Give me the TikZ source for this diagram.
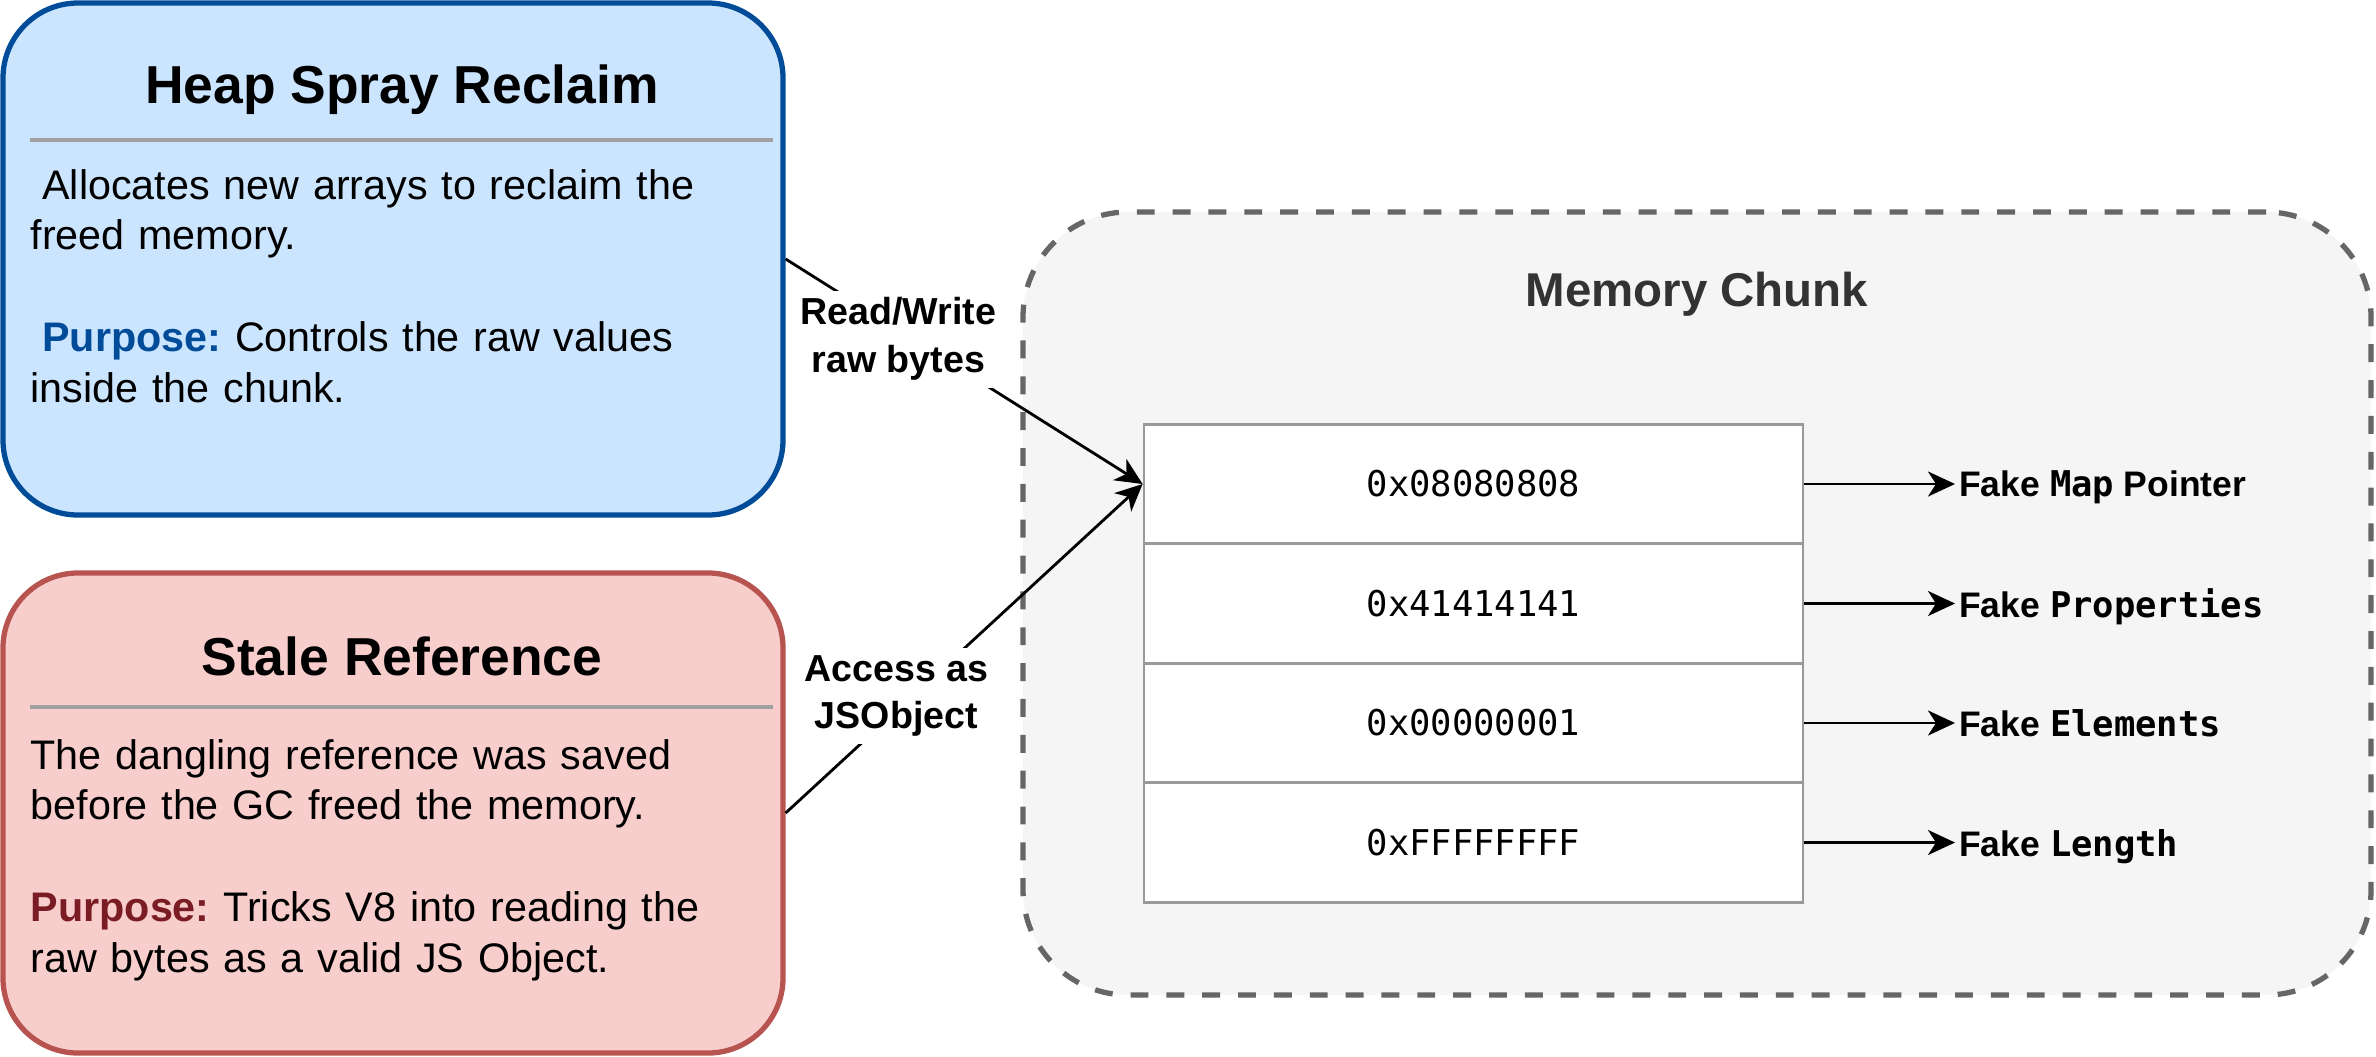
\documentclass[tikz,border=0pt]{standalone}
\usepackage{fontspec}
\setmainfont{Liberation Sans}
\setmonofont{DejaVu Sans Mono}
\usetikzlibrary{arrows.meta, positioning, calc}
\definecolor{cHeapFill}{RGB}{204,229,255}
\definecolor{cHeapLine}{RGB}{0,76,153}
\definecolor{cStaleFill}{RGB}{248,206,204}
\definecolor{cStaleLine}{RGB}{184,84,80}
\definecolor{cStaleText}{RGB}{122,28,36}
\definecolor{cChunkFill}{RGB}{245,245,245}
\definecolor{cChunkLine}{RGB}{102,102,102}
\definecolor{cChunkText}{RGB}{51,51,51}
\definecolor{cRule}{RGB}{160,160,160}
\definecolor{cCell}{RGB}{153,153,153}
\tikzset{
	infobox/.style={rectangle, rounded corners=0.75cm, minimum width=7.8cm, line width=1.5pt, inner sep=0pt},
	boxtitle/.style={anchor=base, inner sep=0pt, font=\bfseries\fontsize{15.2}{18}\selectfont},
	boxbody/.style={anchor=base west, inner sep=0pt, text width=7.5cm, align=left, font=\fontsize{11.75}{14.45}\selectfont\frenchspacing},
	boxrule/.style={draw=cRule, line width=1pt},
	chunkbox/.style={rectangle, rounded corners=1.05cm, draw=cChunkLine, fill=cChunkFill, line width=1.5pt, dash pattern=on 5.1pt off 5.1pt, minimum width=13.48cm, minimum height=7.83cm},
	memcell/.style={draw=cCell, fill=white, line width=0.8pt, minimum width=6.59cm, minimum height=1.195cm, font=\ttfamily\fontsize{10.1}{12}\selectfont},
	fieldlabel/.style={anchor=west, inner sep=1pt, text depth=0pt, font=\bfseries\fontsize{10.1}{12}\selectfont},
	edgelabel/.style={fill=white, align=center, inner sep=2pt, font=\bfseries\fontsize{10.7}{13.6}\selectfont},
	flowarrow/.style={-{Stealth[length=2.7mm, width=2.5mm, inset=0.8mm]}, line width=0.8pt},
}

\begin{document}
\begin{tikzpicture}
	\useasboundingbox (0,0) rectangle (23.76,-10.56);
	% left-hand boxes
	\node[infobox, draw=cHeapLine, fill=cHeapFill, minimum height=5.12cm] (heap) at (3.93,-2.59) {};
	\node[boxtitle] (heapTitle) at (4.02,-1.03) {Heap Spray Reclaim};
	\draw[boxrule] (0.30,-1.40) -- (7.73,-1.40);
	\node[boxbody] (heapBody) at (0.30,-1.99) {\hspace{3.3pt}Allocates new arrays to reclaim the\\ freed memory.\\[14.45pt] \hspace{3.3pt}\textbf{\color{cHeapLine}Purpose:} Controls the raw values\\ inside the chunk.};

	\node[infobox, draw=cStaleLine, fill=cStaleFill, minimum height=4.80cm] (stale) at (3.93,-8.13) {};
	\node[boxtitle] (staleTitle) at (4.02,-6.75) {Stale Reference};
	\draw[boxrule] (0.30,-7.07) -- (7.73,-7.07);
	\node[boxbody] (staleBody) at (0.30,-7.69) {The dangling reference was saved\\ before the GC freed the memory.\\[14.45pt] \textbf{\color{cStaleText}Purpose:} Tricks V8 into reading the\\ raw bytes as a valid JS Object.};

	% memory chunk
	\node[chunkbox] (chunk) at (16.97,-6.035) {};
	\node[anchor=base, inner sep=0pt, text=cChunkText, font=\bfseries\fontsize{13.5}{16}\selectfont] (chunkTitle) at (16.97,-3.06) {Memory Chunk};
	\foreach \val/\idx/\fld in {0x08080808/0/{Fake \texttt{Map} Pointer}, 0x41414141/1/{Fake \texttt{Properties}}, 0x00000001/2/{Fake \texttt{Elements}}, 0xFFFFFFFF/3/{Fake \texttt{Length}}} {
		\node[memcell] (c\idx) at (14.735,-4.84-1.195*\idx) {\val};
		\node[fieldlabel] (f\idx) at (19.55,-4.84-1.195*\idx) {\fld};
		\draw[flowarrow] (c\idx.east) -- (f\idx.west);
	}

	% access paths
	\draw[flowarrow] (heap.east) -- node[edgelabel, pos=0.316, yshift=-0.9mm] (rwLabel) {Read/Write\\raw bytes} (c0.west);
	\draw[flowarrow] (stale.east) -- node[edgelabel, pos=0.31, yshift=1.5mm] (objLabel) {Access as\\JSObject} (c0.west);
\end{tikzpicture}
\end{document}
